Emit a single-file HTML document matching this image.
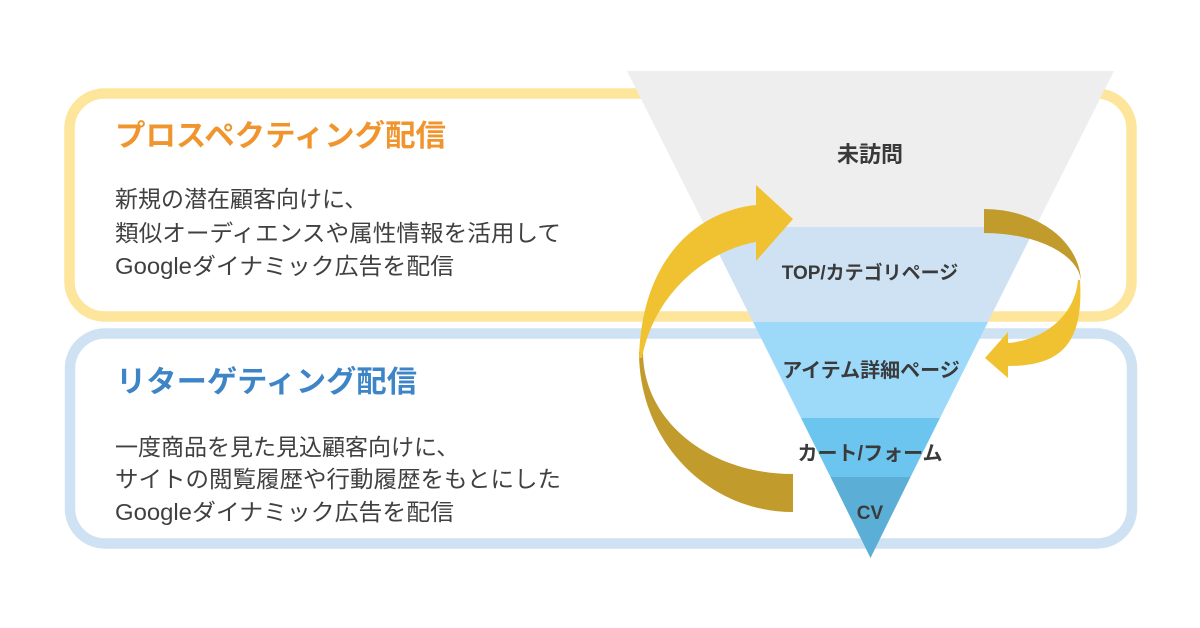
<!DOCTYPE html>
<html>
<head>
<meta charset="utf-8">
<style>
  html,body{margin:0;padding:0;background:#ffffff;}
  body{width:1200px;height:628px;overflow:hidden;}
  svg{display:block;}
  .jp{font-family:"Liberation Sans","Noto Sans CJK JP",sans-serif;}
</style>
</head>
<body>
<svg width="1200" height="628" viewBox="0 0 1200 628" xmlns="http://www.w3.org/2000/svg">
  <rect x="0" y="0" width="1200" height="628" fill="#ffffff"/>

  <!-- Boxes -->
  <rect x="69.5" y="93.5" width="1062" height="223" rx="35" ry="35" fill="#ffffff" stroke="#FDE59B" stroke-width="10.5"/>
  <rect x="70" y="333.5" width="1062" height="210" rx="35" ry="35" fill="#ffffff" stroke="#CFE2F3" stroke-width="10.5"/>

  <!-- Left texts -->
  <text class="jp" x="115" y="146" font-size="30" font-weight="bold" fill="#F0952E" textLength="331" lengthAdjust="spacingAndGlyphs">プロスペクティング配信</text>
  <g class="jp" font-size="23" fill="#404040">
    <text x="115" y="207">新規の潜在顧客向けに、</text>
    <text x="115" y="241" textLength="446" lengthAdjust="spacingAndGlyphs">類似オーディエンスや属性情報を活用して</text>
    <text x="115" y="274" textLength="339" lengthAdjust="spacingAndGlyphs">Googleダイナミック広告を配信</text>
  </g>

  <text class="jp" x="116" y="392" font-size="30" font-weight="bold" fill="#3D85C6" textLength="301" lengthAdjust="spacingAndGlyphs">リターゲティング配信</text>
  <g class="jp" font-size="23" fill="#404040">
    <text x="115" y="455">一度商品を見た見込顧客向けに、</text>
    <text x="115" y="487" textLength="446" lengthAdjust="spacingAndGlyphs">サイトの閲覧履歴や行動履歴をもとにした</text>
    <text x="115" y="520" textLength="339" lengthAdjust="spacingAndGlyphs">Googleダイナミック広告を配信</text>
  </g>

  <!-- Funnel -->
  <!-- edges: x = 870.5 ± (557 - y) * 0.5 -->
  <polygon points="627,71 1114,71 1035.5,227 705.5,227" fill="#EEEEEE"/>
  <polygon points="705.5,227 1035.5,227 988,322 753,322" fill="#CFE2F3"/>
  <polygon points="753,322 988,322 940,418 801,418" fill="#9DD9F9"/>
  <polygon points="801,418 940,418 910.5,477 830.5,477" fill="#6CC5EE"/>
  <polygon points="830.5,477 910.5,477 870.5,558" fill="#5BAFD6"/>

  <!-- Funnel labels -->
  <g class="jp" font-weight="bold" fill="#3A3A3A" text-anchor="middle">
    <text x="870" y="162" font-size="22">未訪問</text>
    <text x="870" y="279" font-size="19">TOP/カテゴリページ</text>
    <text x="871" y="377" font-size="20">アイテム詳細ページ</text>
    <text x="870" y="460" font-size="20">カート/フォーム</text>
    <text x="870" y="519" font-size="19">CV</text>
  </g>

  <!-- Left big arrow -->
  <path d="M 639 352 C 639 442, 708 512, 793 512 L 793 474 C 709 474, 643 421, 643 352 Z" fill="#C19B2B"/>
  <path d="M 793 219 L 756 185 L 756 205 C 705 210, 642 250, 639 358 L 642 358 C 655 290, 710 250, 756 242 L 756 261 Z" fill="#F0C232"/>

  <!-- Right arrow -->
  <path d="M 984 209 A 97 74 0 0 1 1081 283 A 97 50 0 0 0 984 233 Z" fill="#C19B2B"/>
  <path d="M 1080 280 C 1084 345, 1060 366, 1008 366 L 1008 378 L 985 358 L 1008 332 L 1008 343 C 1045 340, 1075 315, 1078 280 Z" fill="#F0C232"/>
</svg>
</body>
</html>
